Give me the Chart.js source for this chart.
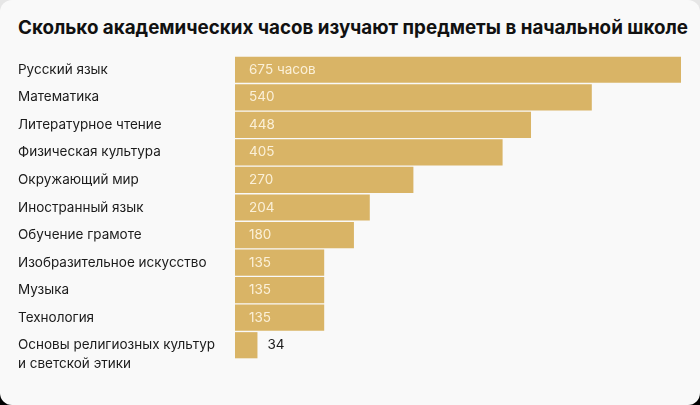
<!DOCTYPE html>
<html>
<head>
<meta charset="utf-8">
<script src="https://cdn.jsdelivr.net/npm/chart.js@4.4.1/dist/chart.umd.min.js"></script>
<style>
  html, body { margin: 0; padding: 0; }
  body { width: 700px; height: 405px; background: linear-gradient(#e6e6e6 50%, #000 50%); overflow: hidden; }
  #card { position: absolute; left: 0; top: 0; width: 700px; height: 405px; background: #f9f9f9; border-radius: 12px; }
  #title { position: absolute; left: 18px; top: 16px; font-family: Inter, "Noto Sans", sans-serif; font-weight: 700; font-size: 18.8px; color: #111; white-space: nowrap; letter-spacing: 0px; }
  #wrap { position: absolute; left: 0; top: 0; width: 700px; height: 405px; }
</style>
</head>
<body>
<div id="card"></div>
<div id="title">Сколько академических часов изучают предметы в начальной школе</div>
<div id="wrap"><canvas id="graphCanvas"></canvas></div>
<script>
// Данные
const subjects = [
    ['Русский язык'],
    ['Математика'],
    ['Литературное чтение'],
    ['Физическая культура'],
    ['Окружающий мир'],
    ['Иностранный язык'],
    ['Обучение грамоте'],
    ['Изобразительное искусство'],
    ['Музыка'],
    ['Технология'],
    ['Основы религиозных культур', 'и светской этики']
];
const hours = [675, 540, 448, 405, 270, 204, 180, 135, 135, 135, 34];
const valueLabels = ['675 часов', '540', '448', '405', '270', '204', '180', '135', '135', '135', '34'];

const FONT = 'Inter, "Noto Sans", sans-serif';

// Подписи категорий и значений
const labelsPlugin = {
    id: 'labelsPlugin',
    afterDatasetsDraw(chart) {
        const ctx = chart.ctx;
        const yScale = chart.scales.y;
        const meta = chart.getDatasetMeta(0);
        ctx.save();
        ctx.textBaseline = 'middle';
        ctx.font = '13.5px ' + FONT;
        subjects.forEach((lines, i) => {
            const y = yScale.getPixelForValue(i);
            ctx.fillStyle = '#1b1b1b';
            ctx.textAlign = 'left';
            lines.forEach((line, j) => {
                ctx.fillText(line, 18, y + j * 19);
            });
            const bar = meta.data[i];
            const barWidth = bar.x - bar.base;
            const text = valueLabels[i];
            const tw = ctx.measureText(text).width;
            if (barWidth > tw + 20) {
                ctx.fillStyle = '#fbf0d8';
                ctx.fillText(text, bar.base + 14, y);
            } else {
                ctx.fillStyle = '#1b1b1b';
                ctx.fillText(text, bar.x + 10, y);
            }
        });
        ctx.restore();
    }
};

const ctx = document.getElementById('graphCanvas').getContext('2d');
const chart = new Chart(ctx, {
    type: 'bar',
    data: {
        labels: subjects,
        datasets: [{
            data: hours,
            backgroundColor: '#d9b466',
            borderWidth: 0,
            barPercentage: 0.95,
            categoryPercentage: 1.0
        }]
    },
    options: {
        indexAxis: 'y',
        responsive: true,
        maintainAspectRatio: false,
        animation: false,
        layout: { padding: { left: 235, right: 19, top: 56, bottom: 46 } },
        plugins: {
            legend: { display: false },
            tooltip: { enabled: false }
        },
        scales: {
            x: { display: false, min: 0, max: 675 },
            y: { display: false }
        }
    },
    plugins: [labelsPlugin]
});
</script>
</body>
</html>
